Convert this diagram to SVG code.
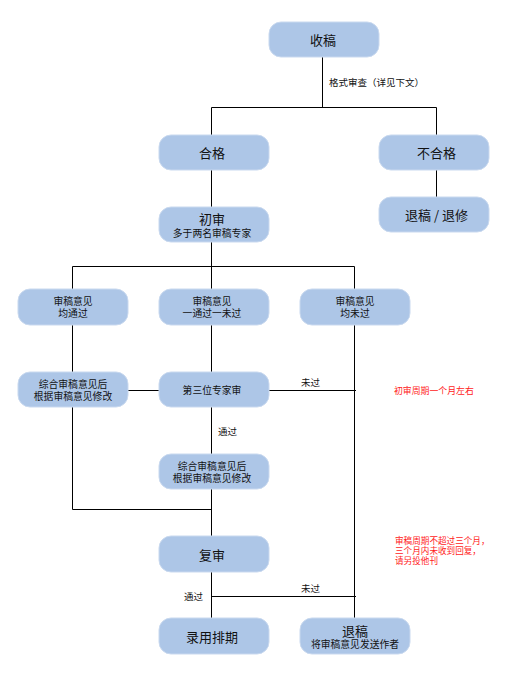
<svg xmlns="http://www.w3.org/2000/svg" width="517" height="678" viewBox="0 0 517 678">
<style>
.box{fill:#adc6e7;stroke:#c9d9ef;stroke-width:1}
.t{font-family:"Noto Sans CJK SC","Noto Sans",sans-serif;fill:#111;text-anchor:middle;dominant-baseline:central}
.big{font-size:13px}
.sm{font-size:9.8px}
.lbl{font-family:"Noto Sans CJK SC","Noto Sans",sans-serif;fill:#111;font-size:9.5px;dominant-baseline:central}
.red{font-family:"Noto Sans CJK SC","Noto Sans",sans-serif;fill:#ff1a1a;font-size:8.6px;dominant-baseline:central}
.red1{font-size:8.9px}
.ln{stroke:#000;stroke-width:1;fill:none}
</style>
<rect width="517" height="678" fill="#fff"/>
<g id="connectors">
<path class="ln" d="M322.5 57 V107.5 M211.5 107.5 H436.5 M211.5 107.5 V135 M436.5 107.5 V135"/>
<path class="ln" d="M436.5 170 V197"/>
<path class="ln" d="M211.5 170 V207"/>
<path class="ln" d="M211.5 242 V289 M72.5 266.5 H354.5 M72.5 266.5 V289 M354.5 266.5 V289"/>
<path class="ln" d="M72.5 325 V372 M211.5 325 V372 M354.5 325 V618"/>
<path class="ln" d="M128 390.5 H159 M269 390.5 H356"/>
<path class="ln" d="M211.5 407 V454"/>
<path class="ln" d="M72.5 407 V509.5 H211.5 M211.5 489 V536"/>
<path class="ln" d="M211.5 572 V618 M211.5 596.5 H356"/>
</g>
<g id="labels">
<text class="lbl" x="329" y="82">格式审查（详见下文）</text>
<text class="lbl" x="301" y="382">未过</text>
<text class="lbl" x="218" y="431">通过</text>
<text class="lbl" x="184" y="596">通过</text>
<text class="lbl" x="301" y="588">未过</text>
</g>
<g id="n-shougao"><rect class="box" x="269" y="22" width="110" height="35" rx="12"/><text class="t big" x="323" y="39.5">收稿</text></g>
<g id="n-hege"><rect class="box" x="159" y="135" width="110" height="35" rx="12"/><text class="t big" x="212" y="152.5">合格</text></g>
<g id="n-buhege"><rect class="box" x="379" y="135" width="110" height="35" rx="12"/><text class="t big" x="436.5" y="152.5">不合格</text></g>
<g id="n-tuigao-tuixiu"><rect class="box" x="379" y="197" width="110" height="35" rx="12"/><text class="t big" x="436.5" y="214.5">退稿 / 退修</text></g>
<g id="n-chushen"><rect class="box" x="159" y="207" width="110" height="35" rx="12"/><text class="t big" x="212" y="218.5">初审</text><text class="t sm" x="212" y="233">多于两名审稿专家</text></g>
<g id="n-juntongguo"><rect class="box" x="18" y="289" width="110" height="36" rx="12"/><text class="t sm" x="73" y="301">审稿意见</text><text class="t sm" x="73" y="313">均通过</text></g>
<g id="n-yitongguo"><rect class="box" x="159" y="289" width="110" height="36" rx="12"/><text class="t sm" x="212" y="301">审稿意见</text><text class="t sm" x="212" y="313">一通过一未过</text></g>
<g id="n-junweiguo"><rect class="box" x="300" y="289" width="110" height="36" rx="12"/><text class="t sm" x="355" y="301">审稿意见</text><text class="t sm" x="355" y="313">均未过</text></g>
<g id="n-zonghe1"><rect class="box" x="18" y="372" width="110" height="35" rx="12"/><text class="t sm" x="73" y="384">综合审稿意见后</text><text class="t sm" x="73" y="396">根据审稿意见修改</text></g>
<g id="n-disanwei"><rect class="box" x="159" y="372" width="110" height="35" rx="12"/><text class="t sm" x="212" y="390">第三位专家审</text></g>
<g id="n-zonghe2"><rect class="box" x="159" y="454" width="110" height="35" rx="12"/><text class="t sm" x="212" y="466">综合审稿意见后</text><text class="t sm" x="212" y="478">根据审稿意见修改</text></g>
<g id="n-fushen"><rect class="box" x="159" y="536" width="110" height="36" rx="12"/><text class="t big" x="212" y="554">复审</text></g>
<g id="n-luyong"><rect class="box" x="159" y="618" width="110" height="36" rx="12"/><text class="t big" x="212" y="636">录用排期</text></g>
<g id="n-tuigao"><rect class="box" x="300" y="618" width="110" height="36" rx="12"/><text class="t big" x="355" y="630">退稿</text><text class="t sm" x="355" y="643.5">将审稿意见发送作者</text></g>
<g id="notes">
<text class="red red1" x="394" y="390">初审周期一个月左右</text>
<text class="red" x="395" y="539.5">审稿周期不超过三个月，</text>
<text class="red" x="395" y="549.5">三个月内未收到回复，</text>
<text class="red" x="395" y="559.5">请另投他刊</text>
</g>
</svg>
